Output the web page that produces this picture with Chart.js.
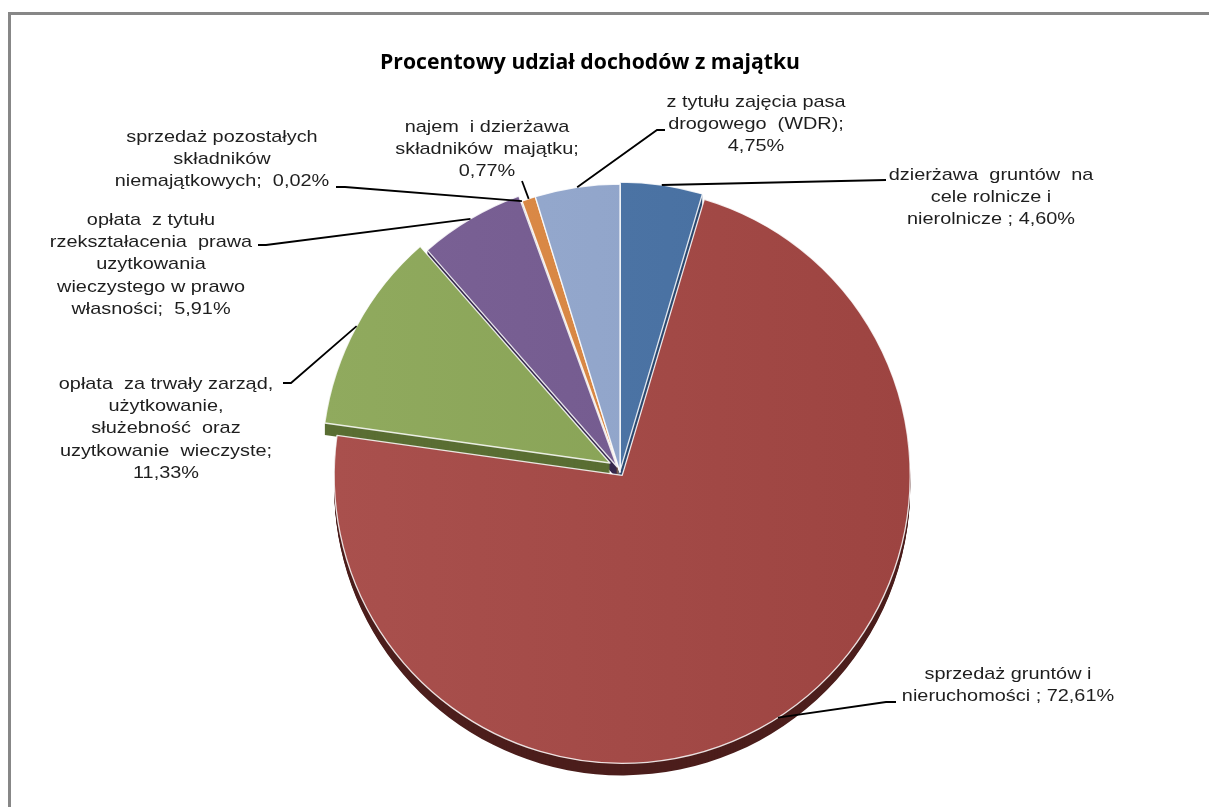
<!DOCTYPE html>
<html>
<head>
<meta charset="utf-8">
<script src="https://cdn.jsdelivr.net/npm/chart.js@4.4.1/dist/chart.umd.min.js"></script>
<style>
html,body{margin:0;padding:0;background:#fff;}
#wrap{position:relative;width:1209px;height:807px;}
</style>
</head>
<body>
<div id="wrap"><canvas id="c"></canvas></div>
<script>
// ---------- DATA ----------
const chartTitle = 'Procentowy udział dochodów z majątku';
const categories = [
  'dzierżawa gruntów na cele rolnicze i nierolnicze ',
  'sprzedaż gruntów i nieruchomości ',
  'opłata za trwały zarząd, użytkowanie, służebność oraz uzytkowanie wieczyste',
  'opłata z tytułu rzekształacenia prawa uzytkowania wieczystego w prawo własności',
  'sprzedaż pozostałych składników niemajątkowych',
  'najem i dzierżawa składników majątku',
  'z tytułu zajęcia pasa drogowego (WDR)'
];
const shares = [4.60, 72.61, 11.33, 5.91, 0.02, 0.77, 4.75];
// wrapped label text ({v} = value of the slice)
const labelWrap = [
  ['dzierżawa  gruntów  na', 'cele rolnicze i', 'nierolnicze ; {v}'],
  ['sprzedaż gruntów i', 'nieruchomości ; {v}'],
  ['opłata  za trwały zarząd,', 'użytkowanie,', 'służebność  oraz', 'uzytkowanie  wieczyste;', '{v}'],
  ['opłata  z tytułu', 'rzekształacenia  prawa', 'uzytkowania', 'wieczystego w prawo', 'własności;  {v}'],
  ['sprzedaż pozostałych', 'składników', 'niemajątkowych;  {v}'],
  ['najem  i dzierżawa', 'składników  majątku;', '{v}'],
  ['z tytułu zajęcia pasa', 'drogowego  (WDR);', '{v}']
];

// ---------- STYLE / LAYOUT ----------
const topColors  = ['#4872A5', '#A44744', '#8AA655', '#745A90', '#3F99B2', '#DB8640', '#92A7CD'];
const sideColors = ['#2C4970', '#4C1E1C', '#5A6E33', '#35274C', '#235D6E', '#8C4F1F', '#5E6F8E'];
// explosion shift of each slice, pixels [dx, dy]
const explodeVec = [[0.3, -2], [2.2, 3.4], [-10, -9], [-3, -5.2], [0, 0], [0, 0], [0, 0]];
const depth = 12;
const labelLayout = [
  {x: 991,  y: 175, pts: [[886, 180]]},
  {x: 1008, y: 674, pts: [[886, 702], [896, 702]]},
  {x: 166,  y: 384, pts: [[291, 383], [283, 383]]},
  {x: 151,  y: 220, pts: [[266, 245], [258, 245]]},
  {x: 222,  y: 137, pts: [[345, 187], [336, 187]]},
  {x: 487,  y: 127, pts: [[522, 181]]},
  {x: 756,  y: 102, pts: [[657, 130], [665, 130]]}
];
const lineH = 22.3;
const textScaleX = 1.17;

function fmt(v) { return v.toFixed(2).replace('.', ',') + '%'; }

function shade(hex, f) {
  const n = parseInt(hex.slice(1), 16);
  let r = (n >> 16) & 255, g = (n >> 8) & 255, b = n & 255;
  const t = f < 0 ? 0 : 255, p = Math.abs(f);
  r = Math.round((t - r) * p + r); g = Math.round((t - g) * p + g); b = Math.round((t - b) * p + b);
  return 'rgb(' + r + ',' + g + ',' + b + ')';
}

function sector(ctx, cx, cy, r, a0, a1) {
  ctx.beginPath();
  ctx.moveTo(cx, cy);
  ctx.arc(cx, cy, r, a0, a1);
  ctx.closePath();
}

function geometry(chart) {
  const arcs = chart.getDatasetMeta(0).data;
  return arcs.map((a, i) => {
    const p = a.getProps(['x', 'y', 'startAngle', 'endAngle', 'outerRadius'], true);
    const mid = (p.startAngle + p.endAngle) / 2;
    return {
      a0: p.startAngle, a1: p.endAngle, r: p.outerRadius, mid,
      cx: p.x + explodeVec[i][0],
      cy: p.y + explodeVec[i][1]
    };
  });
}

const pie3d = {
  id: 'pie3d',
  beforeDatasetsDraw(chart) {
    const ctx = chart.ctx;
    const geo = geometry(chart);
    ctx.save();
    // extruded sides
    for (let d = depth; d >= 1; d--) {
      geo.forEach((g, i) => {
        sector(ctx, g.cx, g.cy + d, g.r, g.a0, g.a1);
        ctx.fillStyle = sideColors[i];
        ctx.fill();
      });
    }
    // top faces
    geo.forEach((g, i) => {
      const grad = ctx.createLinearGradient(g.cx - g.r, 0, g.cx + g.r, 0);
      grad.addColorStop(0, shade(topColors[i], 0.05));
      grad.addColorStop(1, shade(topColors[i], -0.04));
      sector(ctx, g.cx, g.cy, g.r, g.a0, g.a1);
      ctx.fillStyle = grad;
      ctx.fill();
      ctx.lineWidth = 1.3;
      ctx.strokeStyle = 'rgba(255,255,255,0.85)';
      ctx.lineJoin = 'round';
      ctx.stroke();
    });
    ctx.restore();
    return false;
  },
  afterDraw(chart) {
    const ctx = chart.ctx;
    const geo = geometry(chart);
    ctx.save();
    // frame
    ctx.strokeStyle = '#878787';
    ctx.lineWidth = 3;
    ctx.strokeRect(9.5, 13.5, 1400, 1000);
    // title
    ctx.fillStyle = '#000';
    ctx.font = 'bold 21px "Open Sans", "Liberation Sans", sans-serif';
    ctx.textAlign = 'center';
    ctx.textBaseline = 'middle';
    const tw = ctx.measureText(chartTitle).width;
    ctx.save();
    ctx.translate(590, 63);
    ctx.scale(420 / tw, 1);
    ctx.fillText(chartTitle, 0, 0);
    ctx.restore();
    // leader lines
    ctx.strokeStyle = '#000';
    ctx.lineWidth = 1.8;
    geo.forEach((g, i) => {
      const ax = g.cx + Math.cos(g.mid) * g.r;
      const ay = g.cy + Math.sin(g.mid) * g.r;
      ctx.beginPath();
      ctx.moveTo(ax, ay);
      labelLayout[i].pts.forEach(p => ctx.lineTo(p[0], p[1]));
      ctx.stroke();
    });
    // labels
    ctx.fillStyle = '#1e1e1e';
    ctx.font = '17px "Liberation Sans", Arial, sans-serif';
    labelWrap.forEach((lines, i) => {
      const L = labelLayout[i];
      lines.forEach((ln, k) => {
        const t = ln.replace('{v}', fmt(shares[i]));
        ctx.save();
        ctx.translate(L.x, L.y + k * lineH);
        ctx.scale(textScaleX, 1);
        ctx.fillText(t, 0, 0);
        ctx.restore();
      });
    });
    ctx.restore();
  }
};

new Chart(document.getElementById('c'), {
  type: 'pie',
  data: {
    labels: categories,
    datasets: [{
      data: shares,
      backgroundColor: topColors,
      borderWidth: 0
    }]
  },
  options: {
    responsive: true,
    maintainAspectRatio: false,
    animation: false,
    radius: 288,
    rotation: 0,
    layout: {padding: {left: 40, right: 9, top: 150, bottom: 13}},
    plugins: {legend: {display: false}, tooltip: {enabled: false}, title: {display: false}}
  },
  plugins: [pie3d]
});
</script>
</body>
</html>
